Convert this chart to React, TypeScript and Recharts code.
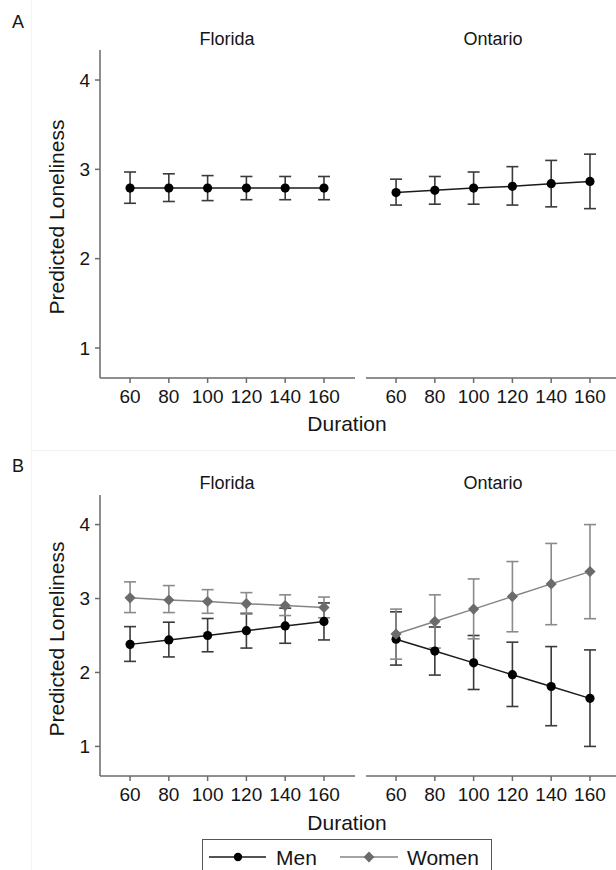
import React from 'react';
import { LineChart, Line, XAxis, YAxis, ErrorBar } from 'recharts';

const FONT = '"Liberation Sans", Arial, sans-serif';
const TEXT = '#151515';
const AXIS = '#6a6a6a';

// durations (minutes) shared by every facet
const durations = [60, 80, 100, 120, 140, 160];
const durationTicks = [60, 80, 100, 120, 140, 160];
const lonelinessTicks = [1, 2, 3, 4];

// panel A: pooled
const floridaA = [2.79, 2.79, 2.79, 2.79, 2.79, 2.79];
const floridaALow = [2.62, 2.64, 2.65, 2.66, 2.66, 2.66];
const floridaAHigh = [2.97, 2.95, 2.93, 2.92, 2.92, 2.92];
const ontarioA = [2.74, 2.765, 2.79, 2.81, 2.84, 2.865];
const ontarioALow = [2.6, 2.61, 2.61, 2.6, 2.58, 2.56];
const ontarioAHigh = [2.89, 2.92, 2.97, 3.03, 3.1, 3.17];

// panel B: by gender
const floridaMen = [2.38, 2.44, 2.5, 2.565, 2.63, 2.69];
const floridaMenLow = [2.15, 2.21, 2.28, 2.33, 2.395, 2.44];
const floridaMenHigh = [2.62, 2.68, 2.73, 2.8, 2.87, 2.94];
const floridaWomen = [3.01, 2.98, 2.96, 2.93, 2.905, 2.88];
const floridaWomenLow = [2.81, 2.81, 2.8, 2.79, 2.77, 2.74];
const floridaWomenHigh = [3.225, 3.175, 3.12, 3.08, 3.05, 3.02];
const ontarioMen = [2.45, 2.29, 2.13, 1.97, 1.81, 1.65];
const ontarioMenLow = [2.1, 1.965, 1.77, 1.54, 1.28, 1.0];
const ontarioMenHigh = [2.82, 2.615, 2.5, 2.41, 2.35, 2.305];
const ontarioWomen = [2.52, 2.69, 2.857, 3.027, 3.198, 3.364];
const ontarioWomenLow = [2.18, 2.33, 2.455, 2.55, 2.646, 2.727];
const ontarioWomenHigh = [2.857, 3.05, 3.265, 3.5, 3.745, 4.0];

const withErr = (vals: number[], lo: number[], hi: number[]) =>
    vals.map((v, i) => ({ v, err: [v - lo[i], hi[i] - v] }));

const buildRows = (men: any[], women?: any[]) =>
    durations.map((d, i) => ({
        duration: d,
        men: men[i].v,
        menErr: men[i].err,
        women: women ? women[i].v : undefined,
        womenErr: women ? women[i].err : undefined,
    }));

const circleDot = (p: any) => (
    <circle key={`c-${p.index}`} cx={p.cx} cy={p.cy} r={4.6} fill="#000" />
);
const diamondDot = (p: any) => (
    <polygon
        key={`d-${p.index}`}
        points={`${p.cx},${p.cy - 5.6} ${p.cx + 5.6},${p.cy} ${p.cx},${p.cy + 5.6} ${p.cx - 5.6},${p.cy}`}
        fill="#6b6b6b"
    />
);

const tickStyle = { fill: TEXT, fontSize: 19, fontFamily: FONT };

function Facet({ rows, withY, width, left, top, height, marginTop, domain, gender }: any) {
    return (
        <div style={{ position: 'absolute', left, top, width, height, fontFamily: FONT }}>
            <LineChart
                width={width}
                height={height}
                data={rows}
                margin={{ top: marginTop, right: withY ? 5 : 0, left: withY ? 55 : 5, bottom: 12 }}
            >
                <XAxis
                    type="number"
                    dataKey="duration"
                    domain={[44.5, 176]}
                    ticks={durationTicks}
                    allowDataOverflow
                    height={30}
                    tickSize={5}
                    tickMargin={7}
                    stroke={AXIS}
                    strokeWidth={1.5}
                    fontSize={19}
                    fontFamily={FONT}
                    tick={tickStyle}
                />
                <YAxis
                    type="number"
                    domain={domain}
                    ticks={lonelinessTicks}
                    allowDataOverflow
                    hide={!withY}
                    width={45}
                    tickSize={5}
                    tickMargin={5}
                    stroke={AXIS}
                    strokeWidth={1.5}
                    fontSize={19}
                    fontFamily={FONT}
                    tick={tickStyle}
                />
                <Line
                    type="linear"
                    dataKey="men"
                    stroke="#1a1a1a"
                    strokeWidth={1.5}
                    dot={circleDot}
                    activeDot={false}
                    isAnimationActive={false}
                >
                    <ErrorBar dataKey="menErr" direction="y" width={6} stroke="#3a3a3a" strokeWidth={1.6} />
                </Line>
                {gender && (
                    <Line
                        type="linear"
                        dataKey="women"
                        stroke="#858585"
                        strokeWidth={1.5}
                        dot={diamondDot}
                        activeDot={false}
                        isAnimationActive={false}
                    >
                        <ErrorBar dataKey="womenErr" direction="y" width={6} stroke="#8a8a8a" strokeWidth={1.6} />
                    </Line>
                )}
            </LineChart>
        </div>
    );
}

const label = (text: string, x: number, y: number, size: number, rotate = false) => (
    <div
        style={{
            position: 'absolute',
            left: x,
            top: y,
            transform: `translate(-50%, -50%)${rotate ? ' rotate(-90deg)' : ''}`,
            fontFamily: FONT,
            fontSize: size,
            lineHeight: 1,
            color: TEXT,
            whiteSpace: 'nowrap',
        }}
    >
        {text}
    </div>
);

export default function App() {
    const aFlorida = buildRows(withErr(floridaA, floridaALow, floridaAHigh));
    const aOntario = buildRows(withErr(ontarioA, ontarioALow, ontarioAHigh));
    const bFlorida = buildRows(
        withErr(floridaMen, floridaMenLow, floridaMenHigh),
        withErr(floridaWomen, floridaWomenLow, floridaWomenHigh)
    );
    const bOntario = buildRows(
        withErr(ontarioMen, ontarioMenLow, ontarioMenHigh),
        withErr(ontarioWomen, ontarioWomenLow, ontarioWomenHigh)
    );
    const domainA = [0.664, 4.336];
    const domainB = [0.6, 4.4];

    return (
        <div style={{ position: 'absolute', left: 0, top: 0, width: 616, height: 870, overflow: 'hidden', background: '#fff' }}>
            {/* faint panel borders from the original figure */}
            <div style={{ position: 'absolute', left: 31, top: 0, width: 1, height: 870, background: '#f4f4f4' }} />
            <div style={{ position: 'absolute', left: 31, top: 450, width: 585, height: 1, background: '#f2f2f2' }} />

            {/* panel A */}
            <Facet rows={aFlorida} withY width={360} left={0} top={0} height={420} marginTop={50} domain={domainA} />
            <Facet rows={aOntario} width={260} left={361} top={0} height={420} marginTop={50} domain={domainA} />
            {label('A', 18, 22, 18)}
            {label('Florida', 227, 39, 18)}
            {label('Ontario', 493, 39, 18)}
            {label('Predicted Loneliness', 56, 217, 21, true)}
            {label('Duration', 347, 423, 21)}

            {/* panel B */}
            <Facet rows={bFlorida} withY gender width={360} left={0} top={420} height={398} marginTop={75} domain={domainB} />
            <Facet rows={bOntario} gender width={260} left={361} top={420} height={398} marginTop={75} domain={domainB} />
            {label('B', 18, 466, 18)}
            {label('Florida', 227, 483, 18)}
            {label('Ontario', 493, 483, 18)}
            {label('Predicted Loneliness', 56, 639, 21, true)}
            {label('Duration', 347, 822, 21)}

            {/* legend */}
            <div style={{ position: 'absolute', left: 202, top: 839, width: 290, height: 50, border: '1.5px solid #555', background: '#fff', boxSizing: 'border-box' }}>
                <svg width={290} height={50} style={{ position: 'absolute', left: 0, top: 0 }}>
                    <line x1={6} x2={63} y1={17} y2={17} stroke="#1a1a1a" strokeWidth={1.4} />
                    <circle cx={35} cy={17} r={4.2} fill="#000" />
                    <text x={73} y={17} dominantBaseline="central" fontFamily={FONT} fontSize={21} fill={TEXT}>Men</text>
                    <line x1={137} x2={195} y1={17} y2={17} stroke="#858585" strokeWidth={1.4} />
                    <polygon points="166,11.6 171.4,17 166,22.4 160.6,17" fill="#6b6b6b" />
                    <text x={204} y={17} dominantBaseline="central" fontFamily={FONT} fontSize={21} fill={TEXT}>Women</text>
                </svg>
            </div>
        </div>
    );
}
